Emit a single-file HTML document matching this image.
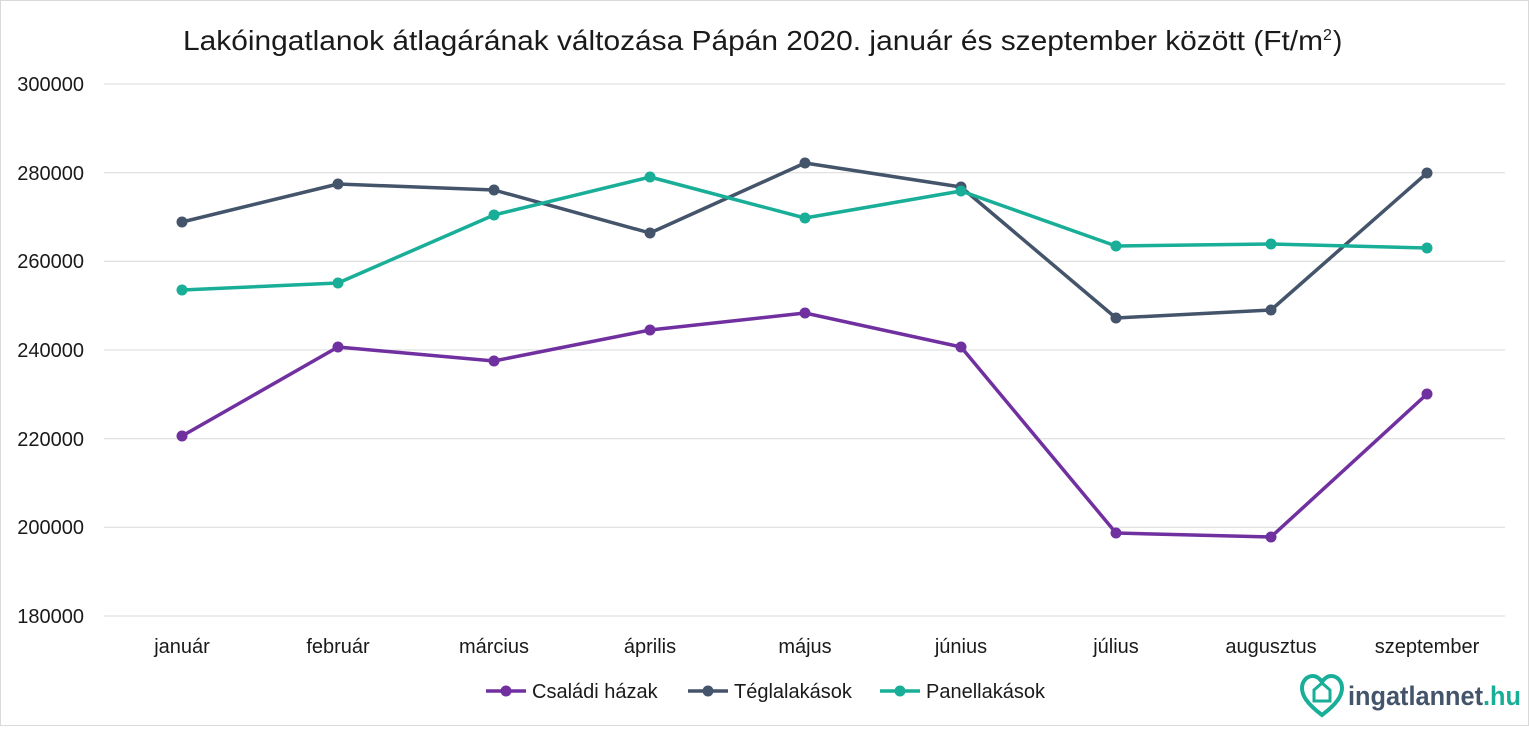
<!DOCTYPE html>
<html><head><meta charset="utf-8"><style>
body{margin:0;background:#fff;}
svg text{font-family:"Liberation Sans",sans-serif;fill:#1a1a1a;}
</style></head><body>
<svg width="1529" height="726" viewBox="0 0 1529 726" xmlns="http://www.w3.org/2000/svg">
<rect x="0.5" y="0.5" width="1528" height="725" fill="#fff" stroke="#d9d9d9"/>
<text x="183" y="50" font-size="28" textLength="1140" lengthAdjust="spacingAndGlyphs">Lakóingatlanok átlagárának változása Pápán 2020. január és szeptember között (Ft/m</text>
<text x="1323" y="40" font-size="16">2</text><text x="1333" y="50" font-size="28">)</text>
<g stroke="#d9d9d9" stroke-width="1">
<line x1="104" x2="1505" y1="84" y2="84"/><line x1="104" x2="1505" y1="172.7" y2="172.7"/>
<line x1="104" x2="1505" y1="261.3" y2="261.3"/><line x1="104" x2="1505" y1="350" y2="350"/>
<line x1="104" x2="1505" y1="438.7" y2="438.7"/><line x1="104" x2="1505" y1="527.3" y2="527.3"/>
<line x1="104" x2="1505" y1="616" y2="616"/>
</g>
<g font-size="20" text-anchor="end">
<text x="84" y="91">300000</text><text x="84" y="180">280000</text><text x="84" y="268">260000</text>
<text x="84" y="357">240000</text><text x="84" y="446">220000</text><text x="84" y="534">200000</text><text x="84" y="623">180000</text>
</g>
<g font-size="20" text-anchor="middle">
<text x="182" y="653">január</text><text x="338" y="653">február</text><text x="494" y="653">március</text>
<text x="650" y="653">április</text><text x="805" y="653">május</text><text x="961" y="653">június</text>
<text x="1116" y="653">július</text><text x="1271" y="653">augusztus</text><text x="1427" y="653">szeptember</text>
</g>
<g fill="none" stroke-width="3.5" stroke-linejoin="round">
<polyline stroke="#7030A0" points="182,436 338,347 494,361 650,330 805,313 961,347 1116,533 1271,537 1427,394"/>
<polyline stroke="#44546A" points="182,222 338,184 494,190 650,233 805,163 961,187 1116,318 1271,310 1427,173"/>
<polyline stroke="#19AE97" points="182,290 338,283 494,215 650,177 805,218 961,191 1116,246 1271,244 1427,248"/>
</g>
<g fill="#7030A0"><circle cx="182" cy="436" r="5.5"/><circle cx="338" cy="347" r="5.5"/><circle cx="494" cy="361" r="5.5"/><circle cx="650" cy="330" r="5.5"/><circle cx="805" cy="313" r="5.5"/><circle cx="961" cy="347" r="5.5"/><circle cx="1116" cy="533" r="5.5"/><circle cx="1271" cy="537" r="5.5"/><circle cx="1427" cy="394" r="5.5"/></g>
<g fill="#44546A"><circle cx="182" cy="222" r="5.5"/><circle cx="338" cy="184" r="5.5"/><circle cx="494" cy="190" r="5.5"/><circle cx="650" cy="233" r="5.5"/><circle cx="805" cy="163" r="5.5"/><circle cx="961" cy="187" r="5.5"/><circle cx="1116" cy="318" r="5.5"/><circle cx="1271" cy="310" r="5.5"/><circle cx="1427" cy="173" r="5.5"/></g>
<g fill="#19AE97"><circle cx="182" cy="290" r="5.5"/><circle cx="338" cy="283" r="5.5"/><circle cx="494" cy="215" r="5.5"/><circle cx="650" cy="177" r="5.5"/><circle cx="805" cy="218" r="5.5"/><circle cx="961" cy="191" r="5.5"/><circle cx="1116" cy="246" r="5.5"/><circle cx="1271" cy="244" r="5.5"/><circle cx="1427" cy="248" r="5.5"/></g>
<g font-size="20">
<line x1="486" x2="526" y1="691" y2="691" stroke="#7030A0" stroke-width="3.5"/><circle cx="506" cy="691" r="5.5" fill="#7030A0"/><text x="532" y="698">Családi házak</text>
<line x1="688" x2="728" y1="691" y2="691" stroke="#44546A" stroke-width="3.5"/><circle cx="708" cy="691" r="5.5" fill="#44546A"/><text x="734" y="698">Téglalakások</text>
<line x1="880" x2="920" y1="691" y2="691" stroke="#19AE97" stroke-width="3.5"/><circle cx="900" cy="691" r="5.5" fill="#19AE97"/><text x="926" y="698">Panellakások</text>
</g>
<g transform="translate(1302,677)">
<path d="M20,38 C4,26 0,18 0,11 C0,4 5,-1 11,-1 C15,-1 18,2 20,5 C22,2 25,-1 29,-1 C35,-1 40,4 40,11 C40,18 36,26 20,38Z" fill="none" stroke="#19AE97" stroke-width="4"/>
<path d="M12,13 L20,6 L28,13 L28,24 L12,24Z" fill="none" stroke="#19AE97" stroke-width="3"/>
</g>
<text x="1348" y="705" font-size="27" font-weight="bold" textLength="173" lengthAdjust="spacingAndGlyphs" style="fill:#44546A">ingatlannet<tspan style="fill:#19AE97">.hu</tspan></text>
</svg>
</body></html>
